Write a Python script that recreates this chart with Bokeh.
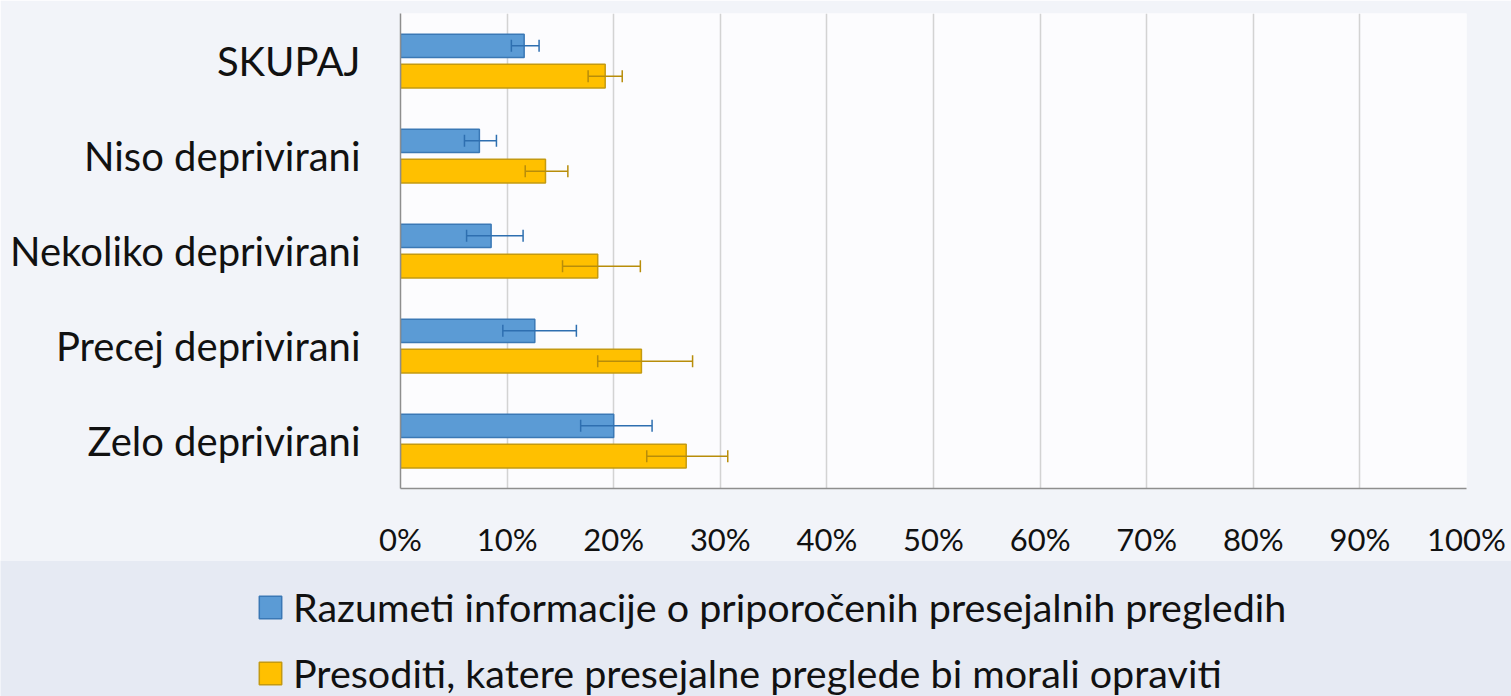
from bokeh.plotting import figure
from bokeh.layouts import column
from bokeh.models import (ColumnDataSource, FactorRange, Range1d, Whisker, TeeHead,
                          NumeralTickFormatter, FixedTicker, Legend, LegendItem)
from bokeh.transform import dodge
from bokeh.embed import file_html
from bokeh.resources import INLINE

# ---- data -------------------------------------------------------------
categories = ["SKUPAJ", "Niso deprivirani", "Nekoliko deprivirani",
              "Precej deprivirani", "Zelo deprivirani"]
razumeti = [0.116, 0.074, 0.085, 0.126, 0.200]
razumeti_low = [0.104, 0.060, 0.062, 0.096, 0.169]
razumeti_high = [0.130, 0.090, 0.115, 0.165, 0.236]
presoditi = [0.192, 0.136, 0.185, 0.226, 0.268]
presoditi_low = [0.176, 0.117, 0.152, 0.185, 0.231]
presoditi_high = [0.208, 0.157, 0.225, 0.274, 0.307]
series_names = ["Razumeti informacije o priporočenih presejalnih pregledih",
                "Presoditi, katere presejalne preglede bi morali opraviti"]
x_ticks = [0.0, 0.1, 0.2, 0.3, 0.4, 0.5, 0.6, 0.7, 0.8, 0.9, 1.0]

FONT = "Lato"
TXT = "#111111"
BLUE, BLUE_LINE, BLUE_ERR = "#5b9bd5", "#3a78b5", "#2e6fb0"
GOLD, GOLD_LINE, GOLD_ERR = "#ffc000", "#c49a10", "#b88d0a"

src = ColumnDataSource(dict(
    cat=categories,
    raz=razumeti, raz_lo=razumeti_low, raz_hi=razumeti_high,
    pre=presoditi, pre_lo=presoditi_low, pre_hi=presoditi_high,
))

# ---- main chart -------------------------------------------------------
p = figure(width=1511, height=560,
           y_range=FactorRange(factors=list(reversed(categories)), range_padding=0),
           x_range=Range1d(0, 1),
           output_backend="svg", toolbar_location=None,
           min_border_left=400, min_border_right=45,
           min_border_top=13, min_border_bottom=70)
p.frame_align = False
p.border_fill_color = "#f2f4f9"
p.background_fill_color = "#fcfcfe"
p.outline_line_color = None

p.hbar(y=dodge("cat", 0.16, range=p.y_range), left=0, right="raz",
       height=0.245, source=src, fill_color=BLUE,
       line_color=BLUE_LINE, line_width=1.5)
p.hbar(y=dodge("cat", -0.16, range=p.y_range), left=0, right="pre",
       height=0.25, source=src, fill_color=GOLD,
       line_color=GOLD_LINE, line_width=1.5)

for base_off, lo, hi, col in [(0.16, "raz_lo", "raz_hi", BLUE_ERR),
                              (-0.16, "pre_lo", "pre_hi", GOLD_ERR)]:
    w = Whisker(base=dodge("cat", base_off, range=p.y_range), lower=lo, upper=hi,
                dimension="width", source=src, level="overlay",
                line_color=col, line_width=1.5,
                lower_head=TeeHead(size=12, line_color=col, line_width=1.5),
                upper_head=TeeHead(size=12, line_color=col, line_width=1.5))
    p.add_layout(w)

p.xaxis.ticker = FixedTicker(ticks=x_ticks)
p.xaxis.formatter = NumeralTickFormatter(format="0%")
p.xaxis.major_tick_line_color = None
p.xaxis.minor_tick_line_color = None
p.xaxis.axis_line_color = "#8e8e8e"
p.xaxis.axis_line_width = 1.5
p.xaxis.major_label_text_font = FONT
p.xaxis.major_label_text_font_size = "31px"
p.xaxis.major_label_text_color = TXT
p.xaxis.major_label_standoff = 25

p.yaxis.major_tick_line_color = None
p.yaxis.minor_tick_line_color = None
p.yaxis.axis_line_color = "#8e8e8e"
p.yaxis.axis_line_width = 1.5
p.yaxis.major_label_text_font = FONT
p.yaxis.major_label_text_font_size = "40px"
p.yaxis.major_label_text_color = TXT
p.yaxis.major_label_standoff = 34

p.xgrid.grid_line_color = "#d3d3d3"
p.xgrid.grid_line_width = 1.5
p.ygrid.grid_line_color = None

# ---- legend strip -----------------------------------------------------
lg = figure(width=1511, height=136,
            x_range=Range1d(0, 1),
            y_range=FactorRange(factors=list(reversed(categories))),
            output_backend="svg", toolbar_location=None,
            x_axis_type=None, y_axis_type=None,
            min_border_left=0, min_border_right=0,
            min_border_top=0, min_border_bottom=0)
lg.frame_align = False
lg.border_fill_color = "#e6eaf3"
lg.background_fill_color = "#e6eaf3"
lg.outline_line_color = None
lg.grid.visible = False

k_raz = lg.hbar(y=dodge("cat", 0.16, range=lg.y_range), left=0, right="raz",
                height=0.245, source=src, fill_color=BLUE,
                line_color=BLUE_LINE, line_width=1.5, visible=False)
k_pre = lg.hbar(y=dodge("cat", -0.16, range=lg.y_range), left=0, right="pre",
                height=0.25, source=src, fill_color=GOLD,
                line_color=GOLD_LINE, line_width=1.5, visible=False)

legend = Legend(items=[LegendItem(label=series_names[0], renderers=[k_raz]),
                       LegendItem(label=series_names[1], renderers=[k_pre])],
                orientation="vertical", location=(256, 0),
                label_text_font=FONT, label_text_font_size="39.5px",
                label_text_color=TXT,
                glyph_width=28, glyph_height=28, label_standoff=9,
                spacing=19, padding=0, margin=0,
                inactive_fill_alpha=0,
                border_line_color=None, background_fill_alpha=0)
lg.add_layout(legend, "center")

open("out.html", "w").write(file_html(column(p, lg, spacing=0), INLINE))
